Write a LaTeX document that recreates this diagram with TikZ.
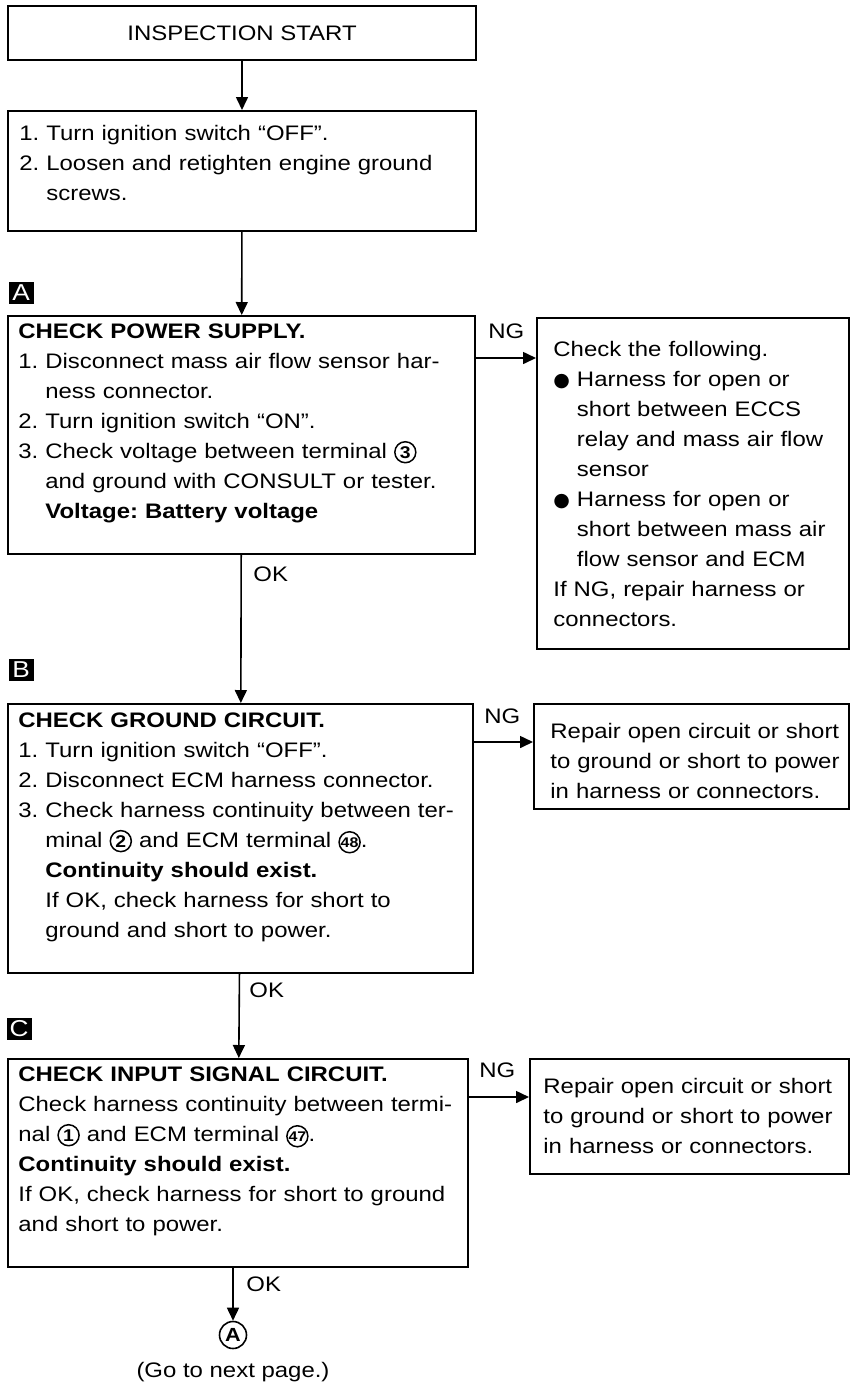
\documentclass[tikz,border=0pt]{standalone}
\usepackage{fontspec}
\setmainfont{Liberation Sans}[FakeStretch=1.14]
\newfontfamily\symfont{DejaVu Sans}
\usetikzlibrary{arrows.meta}

\newcommand\bodyfont{\fontsize{10.5pt}{15pt}\selectfont}
\newcommand\ind{\phantom{1.\ }}
\newcommand\bul{{\symfont\fontsize{9.5pt}{9.5pt}\selectfont ●}\ }
\newcommand\bind{\phantom{\bul}}
\newcommand\cnum[2][8.5pt]{\tikz[baseline=(cn.base)]\node[draw,circle,line width=0.75pt,inner sep=0pt,minimum size=10.5pt,text width=,align=center,font=\fontsize{#1}{#1}\selectfont\bfseries] (cn) {#2};}

\tikzset{
  frame/.style={draw, line width=1pt, anchor=north west, inner sep=0pt},
  steptext/.style={anchor=north west, align=left, inner sep=0pt, font=\bodyfont},
  tag/.style={fill=black, text=white, inner sep=0pt, minimum width=12.5pt, minimum height=11pt, font=\fontsize{11.5pt}{11.5pt}\selectfont},
  flow/.style={line width=0.8pt, -{Triangle[length=6.5pt,width=6pt]}},
  answer/.style={anchor=base west, font=\bodyfont, inner sep=0pt}
}

\begin{document}
\frenchspacing
\begin{tikzpicture}[x=0.5pt, y=-0.5pt]
    \useasboundingbox (0,0) rectangle (850,1382);

    % start and preparation
    \node[frame, minimum width=234pt, minimum height=27pt, font=\bodyfont] (start) at (7,5) {INSPECTION START};
    \node[frame, minimum width=234pt, minimum height=60pt] (prep) at (7,110) {};
    \node[steptext, text width=225pt] (preptxt) at ([xshift=6pt,yshift=-7.5pt]prep.north west)
        {1. Turn ignition switch “OFF”.\\
         2. Loosen and retighten engine ground\\
         \ind screws.};

    % A: power supply
    \node[tag] (tagA) at (21,293) {A};
    \node[frame, minimum width=233.5pt, minimum height=119pt] (boxA) at (7,315) {};
    \node[steptext, text width=225pt] (boxAtxt) at ([xshift=5.5pt,yshift=-4pt]boxA.north west)
        {\textbf{CHECK POWER SUPPLY.}\\
         1. Disconnect mass air flow sensor har-\\
         \ind ness connector.\\
         2. Turn ignition switch “ON”.\\
         3. Check voltage between terminal \cnum{3}\\
         \ind and ground with CONSULT or tester.\\
         \ind\textbf{Voltage: Battery voltage}};
    \node[frame, minimum width=156pt, minimum height=165.5pt] (repA) at (536,317) {};
    \node[steptext, text width=150pt] (repAtxt) at ([xshift=8.5pt,yshift=-12pt]repA.north west)
        {Check the following.\\
         \bul Harness for open or\\
         \bind short between ECCS\\
         \bind relay and mass air flow\\
         \bind sensor\\
         \bul Harness for open or\\
         \bind short between mass air\\
         \bind flow sensor and ECM\\
         If NG, repair harness or\\
         connectors.};

    % B: ground circuit
    \node[tag] (tagB) at (21,670) {B};
    \node[frame, minimum width=232.5pt, minimum height=134.5pt] (boxB) at (7,703) {};
    \node[steptext, text width=225pt] (boxBtxt) at ([xshift=5.5pt,yshift=-4.5pt]boxB.north west)
        {\textbf{CHECK GROUND CIRCUIT.}\\
         1. Turn ignition switch “OFF”.\\
         2. Disconnect ECM harness connector.\\
         3. Check harness continuity between ter-\\
         \ind minal \cnum{2} and ECM terminal \cnum[7pt]{48}.\\
         \ind\textbf{Continuity should exist.}\\
         \ind If OK, check harness for short to\\
         \ind ground and short to power.};
    \node[frame, minimum width=157.5pt, minimum height=52.5pt] (repB) at (533,703) {};
    \node[steptext, text width=150pt] (repBtxt) at ([xshift=8.5pt,yshift=-10pt]repB.north west)
        {Repair open circuit or short\\
         to ground or short to power\\
         in harness or connectors.};

    % C: input signal circuit
    \node[tag] (tagC) at (19,1029) {C};
    \node[frame, minimum width=230pt, minimum height=104pt] (boxC) at (7,1058) {};
    \node[steptext, text width=225pt] (boxCtxt) at ([xshift=5.5pt,yshift=-4pt]boxC.north west)
        {\textbf{CHECK INPUT SIGNAL CIRCUIT.}\\
         Check harness continuity between termi-\\
         nal \cnum{1} and ECM terminal \cnum[7pt]{47}.\\
         \textbf{Continuity should exist.}\\
         If OK, check harness for short to ground\\
         and short to power.};
    \node[frame, minimum width=159.5pt, minimum height=57.5pt] (repC) at (529,1058) {};
    \node[steptext, text width=150pt] (repCtxt) at ([xshift=7pt,yshift=-10pt]repC.north west)
        {Repair open circuit or short\\
         to ground or short to power\\
         in harness or connectors.};

    % next page
    \node[draw, circle, line width=0.8pt, inner sep=0pt, minimum size=13.5pt, font=\fontsize{9.5pt}{9.5pt}\selectfont\bfseries] (pageA) at (233,1335) {A};
    \node[anchor=base, font=\bodyfont, inner sep=0pt] (gonext) at (233,1377) {(Go to next page.)};

    % OK path
    \draw[flow] (start) -- (prep);
    \draw[flow] (prep) -- (boxA);
    \draw[flow] (boxA) -- (boxB);
    \draw[flow] (boxB) -- (boxC);
    \draw[flow] (boxC.south -| pageA) -- (pageA);
    \node[answer] (okA) at ([xshift=5.75pt,yshift=-13pt]boxA.south) {OK};
    \node[answer] (okB) at ([xshift=4.25pt,yshift=-11.5pt]boxB.south) {OK};
    \node[answer] (okC) at ([xshift=6.5pt,yshift=-11.5pt]boxC.south -| pageA) {OK};

    % NG branches
    \coordinate (fromA) at ([yshift=-21.5pt]boxA.north east);
    \coordinate (fromB) at ([yshift=-19.5pt]boxB.north east);
    \coordinate (fromC) at ([yshift=-19.5pt]boxC.north east);
    \draw[flow] (fromA) -- (fromA -| repA.west);
    \draw[flow] (fromB) -- (fromB -| repB.west);
    \draw[flow] (fromC) -- (fromC -| repC.west);
    \node[answer] (ngA) at ([xshift=6pt,yshift=10pt]fromA) {NG};
    \node[answer] (ngB) at ([xshift=5pt,yshift=9.5pt]fromB) {NG};
    \node[answer] (ngC) at ([xshift=5pt,yshift=10pt]fromC) {NG};

\end{tikzpicture}
\end{document}
